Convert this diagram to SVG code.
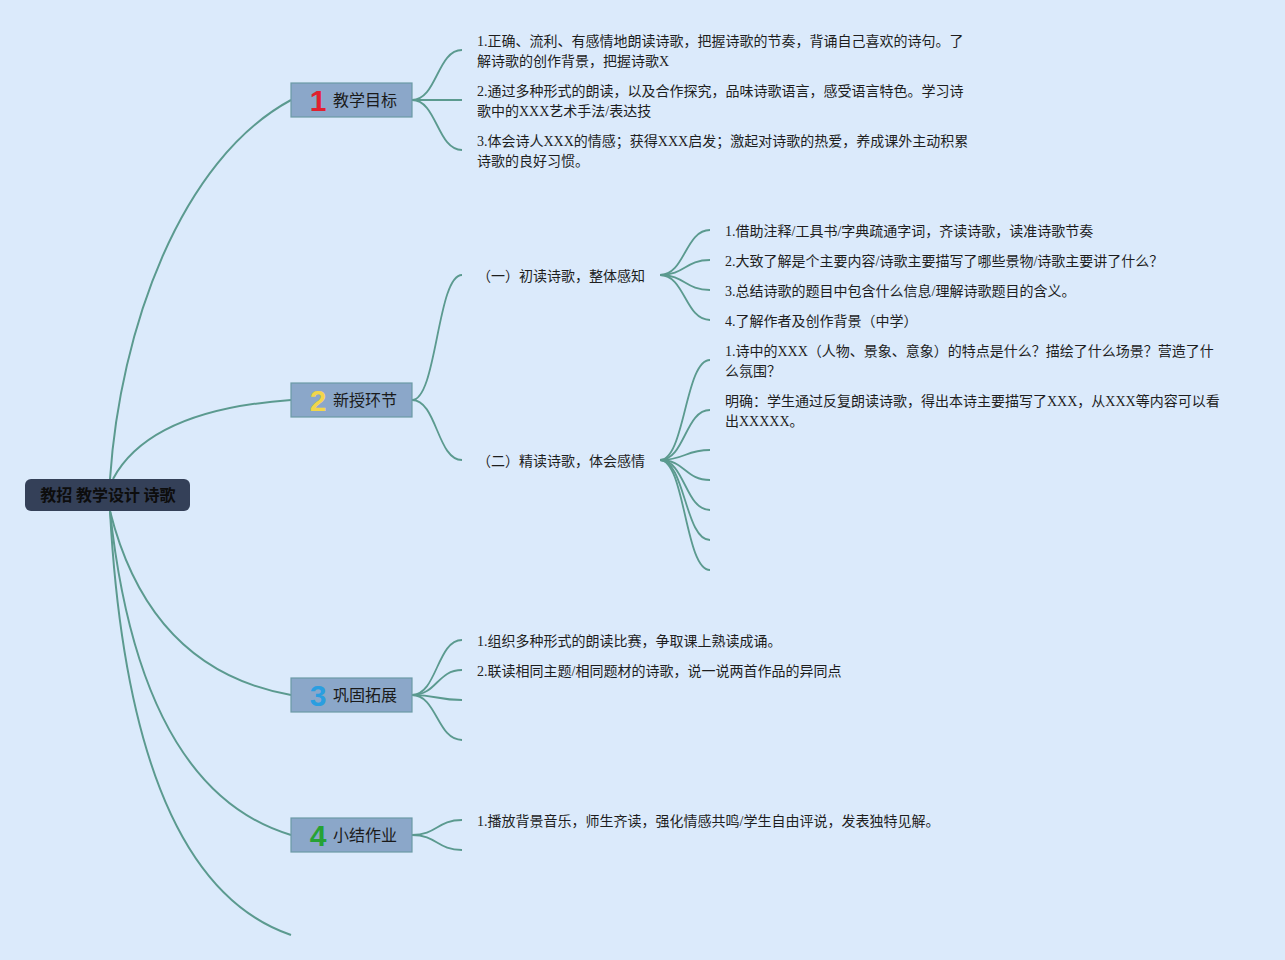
<svg xmlns="http://www.w3.org/2000/svg" width="1285" height="960" viewBox="0 0 1285 960">
<style>
.bg{fill:#dbeafb}
.c{fill:none;stroke:#5b9a8f;stroke-width:2}
.cs{fill:none;stroke:#5b9a8f;stroke-width:1.8}
.node rect{fill:#8ba7c9;stroke:#6b9aa6;stroke-width:1.2}
.num{font-family:"Liberation Sans",Arial,sans-serif;font-weight:bold;font-size:30px}
.lbl{font-family:"Noto Sans CJK SC","Liberation Sans",sans-serif;font-size:16px;fill:#1a1a1a}
.t{font-family:"Liberation Serif","Noto Sans CJK SC",serif;font-size:14px;fill:#1e1e1e}
.root rect{fill:#344058}
.root text{font-family:"Noto Sans CJK SC","Liberation Sans",sans-serif;font-size:16px;font-weight:bold;fill:#0d0d0d}
</style>
<rect class="bg" x="0" y="0" width="1285" height="960"/>
<g id="connectors">
<path class="c" d="M110,479 C120,330 180,160 291,100"/>
<path class="c" d="M113,479 Q150,410 291,400"/>
<path class="c" d="M110,511 Q150,670 291,695"/>
<path class="c" d="M110,511 Q140,790 291,835"/>
<path class="c" d="M110,511 Q130,880 291,935"/>
<path class="cs" d="M412,100 C437,100 437,50 462,50"/>
<path class="cs" d="M412,100 L462,100"/>
<path class="cs" d="M412,100 C437,100 437,150 462,150"/>
<path class="cs" d="M412,400 C437,400 437,275 462,275"/>
<path class="cs" d="M412,400 C437,400 437,460 462,460"/>
<path class="cs" d="M660,275 C685,275 685,230 710,230"/>
<path class="cs" d="M660,275 C685,275 685,260 710,260"/>
<path class="cs" d="M660,275 C685,275 685,290 710,290"/>
<path class="cs" d="M660,275 C685,275 685,320 710,320"/>
<path class="cs" d="M660,460 C685,460 685,360 710,360"/>
<path class="cs" d="M660,460 C685,460 685,410 710,410"/>
<path class="cs" d="M660,460 C685,460 685,450 710,450"/>
<path class="cs" d="M660,460 C685,460 685,480 710,480"/>
<path class="cs" d="M660,460 C685,460 685,510 710,510"/>
<path class="cs" d="M660,460 C685,460 685,540 710,540"/>
<path class="cs" d="M660,460 C685,460 685,570 710,570"/>
<path class="cs" d="M412,695 C437,695 437,640 462,640"/>
<path class="cs" d="M412,695 C437,695 437,670 462,670"/>
<path class="cs" d="M412,695 C437,695 437,700 462,700"/>
<path class="cs" d="M412,695 C437,695 437,740 462,740"/>
<path class="cs" d="M412,835 C437,835 437,820 462,820"/>
<path class="cs" d="M412,835 C437,835 437,850 462,850"/>
</g>
<g id="root" class="root">
<rect x="25" y="479" width="165" height="32" rx="6"/>
<text x="108" y="501" text-anchor="middle">教招 教学设计 诗歌</text>
</g>
<g id="n1" class="node">
<rect x="291" y="83" width="121" height="34"/>
<text class="num" x="318" y="111" text-anchor="middle" fill="#e0202e">1</text>
<text class="lbl" x="333" y="106">教学目标</text>
</g>
<g id="n2" class="node">
<rect x="291" y="383" width="121" height="34"/>
<text class="num" x="318" y="411" text-anchor="middle" fill="#f2d64a">2</text>
<text class="lbl" x="333" y="406">新授环节</text>
</g>
<g id="n3" class="node">
<rect x="291" y="678" width="121" height="34"/>
<text class="num" x="318" y="706" text-anchor="middle" fill="#2a9ee0">3</text>
<text class="lbl" x="333" y="701">巩固拓展</text>
</g>
<g id="n4" class="node">
<rect x="291" y="818" width="121" height="34"/>
<text class="num" x="318" y="846" text-anchor="middle" fill="#26a234">4</text>
<text class="lbl" x="333" y="841">小结作业</text>
</g>
<g id="n1-1"><text class="t" x="477" y="46">1.正确、流利、有感情地朗读诗歌，把握诗歌的节奏，背诵自己喜欢的诗句。了</text><text class="t" x="477" y="66">解诗歌的创作背景，把握诗歌X</text></g>
<g id="n1-2"><text class="t" x="477" y="96">2.通过多种形式的朗读，以及合作探究，品味诗歌语言，感受语言特色。学习诗</text><text class="t" x="477" y="116">歌中的XXX艺术手法/表达技</text></g>
<g id="n1-3"><text class="t" x="477" y="146">3.体会诗人XXX的情感；获得XXX启发；激起对诗歌的热爱，养成课外主动积累</text><text class="t" x="477" y="166">诗歌的良好习惯。</text></g>
<g id="n2-1"><text class="t" x="477" y="281">（一）初读诗歌，整体感知</text></g>
<g id="n2-2"><text class="t" x="477" y="466">（二）精读诗歌，体会感情</text></g>
<g id="n2-1-1"><text class="t" x="725" y="236">1.借助注释/工具书/字典疏通字词，齐读诗歌，读准诗歌节奏</text></g>
<g id="n2-1-2"><text class="t" x="725" y="266">2.大致了解是个主要内容/诗歌主要描写了哪些景物/诗歌主要讲了什么？</text></g>
<g id="n2-1-3"><text class="t" x="725" y="296">3.总结诗歌的题目中包含什么信息/理解诗歌题目的含义。</text></g>
<g id="n2-1-4"><text class="t" x="725" y="326">4.了解作者及创作背景（中学）</text></g>
<g id="n2-2-1"><text class="t" x="725" y="356">1.诗中的XXX（人物、景象、意象）的特点是什么？描绘了什么场景？营造了什</text><text class="t" x="725" y="376">么氛围？</text></g>
<g id="n2-2-2"><text class="t" x="725" y="406">明确：学生通过反复朗读诗歌，得出本诗主要描写了XXX，从XXX等内容可以看</text><text class="t" x="725" y="426">出XXXXX。</text></g>
<g id="n3-1"><text class="t" x="477" y="646">1.组织多种形式的朗读比赛，争取课上熟读成诵。</text></g>
<g id="n3-2"><text class="t" x="477" y="676">2.联读相同主题/相同题材的诗歌，说一说两首作品的异同点</text></g>
<g id="n4-1"><text class="t" x="477" y="826">1.播放背景音乐，师生齐读，强化情感共鸣/学生自由评说，发表独特见解。</text></g>
</svg>
